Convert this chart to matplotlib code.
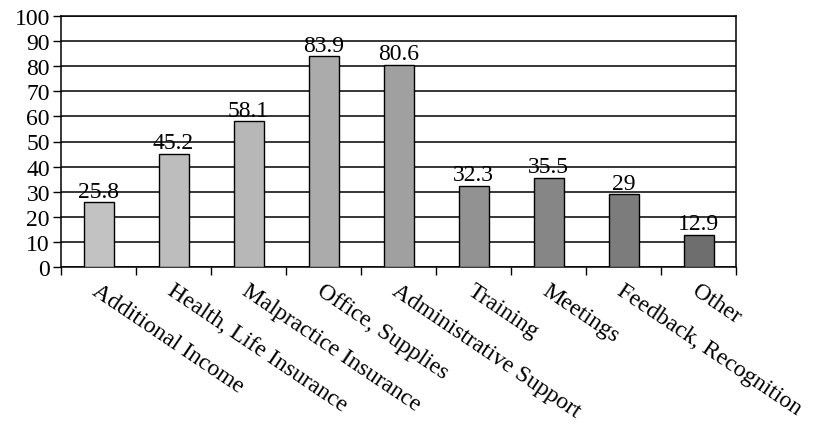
import matplotlib.pyplot as plt
import matplotlib.transforms as mtransforms
import numpy as np

categories = ["Additional Income", "Health, Life Insurance", "Malpractice Insurance",
              "Office, Supplies", "Administrative Support", "Training", "Meetings",
              "Feedback, Recognition", "Other"]
values = [25.8, 45.2, 58.1, 83.9, 80.6, 32.3, 35.5, 29, 12.9]
value_labels = ["25.8", "45.2", "58.1", "83.9", "80.6", "32.3", "35.5", "29", "12.9"]
bar_colors = ["#c2c2c2", "#bdbdbd", "#b7b7b7", "#ababab", "#a0a0a0",
              "#929292", "#868686", "#7c7c7c", "#6e6e6e"]

plt.rcParams['font.family'] = ['Liberation Serif', 'DejaVu Serif']

fig = plt.figure(figsize=(8.15, 4.27), dpi=100)
ax = fig.add_axes([61/815, 1 - 268/427, (736 - 61)/815, (268 - 17)/427])

x = np.arange(len(categories))
ax.bar(x, values, width=0.4, color=bar_colors, edgecolor='black', linewidth=1.0, zorder=3)

for xi, v, lab in zip(x, values, value_labels):
    ax.text(xi, v + 0.2, lab, ha='center', va='bottom', fontsize=17, zorder=4)

ax.set_xlim(-0.5, len(categories) - 0.5)
ax.set_ylim(0, 100)
ax.set_yticks(np.arange(0, 101, 10))
ax.yaxis.grid(True, color='black', linewidth=1.1, zorder=0)
ax.set_axisbelow(True)

ax.set_xticks(np.arange(-0.5, len(categories), 1))
ax.set_xticklabels([])
ax.tick_params(axis='x', direction='out', length=6, width=1)
ax.tick_params(axis='y', direction='out', length=6, width=1, labelsize=17, pad=2)

for sp in ax.spines.values():
    sp.set_linewidth(1.1)

# rotated category labels
trans = mtransforms.blended_transform_factory(ax.transData, ax.transAxes)
for xi, cat in zip(x, categories):
    ax.text(xi - 0.06, -0.085, cat, transform=trans, rotation=-34,
            rotation_mode='anchor', ha='left', va='center', fontsize=17)

fig.savefig("out.png", dpi=100)
